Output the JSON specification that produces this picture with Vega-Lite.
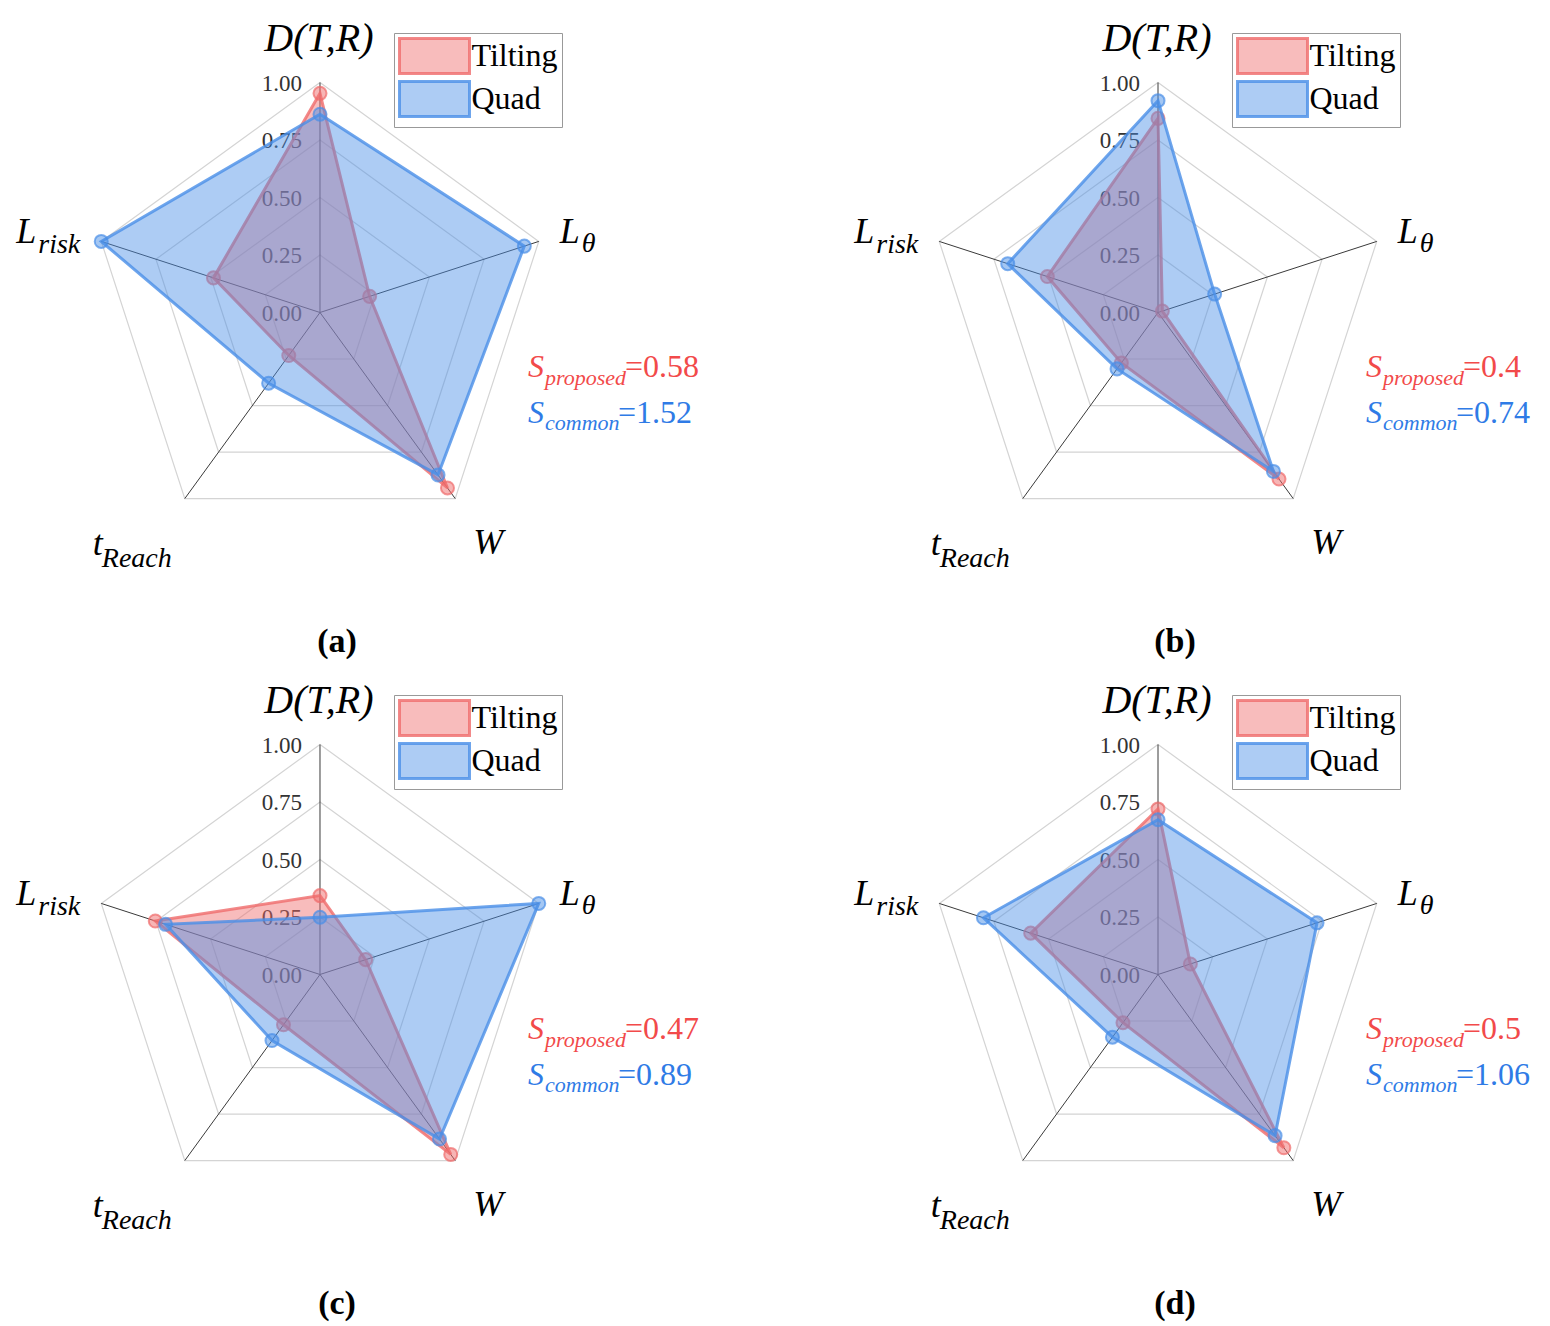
{
"$schema":"https://vega.github.io/schema/vega-lite/v6.json",
"background":"white",
"padding":0,
"columns":2,
"spacing":{"row":2,"column":138},
"datasets":{
"grid":[{"level":0.25,"k":0},{"level":0.25,"k":1},{"level":0.25,"k":2},{"level":0.25,"k":3},{"level":0.25,"k":4},
{"level":0.5,"k":0},{"level":0.5,"k":1},{"level":0.5,"k":2},{"level":0.5,"k":3},{"level":0.5,"k":4},
{"level":0.75,"k":0},{"level":0.75,"k":1},{"level":0.75,"k":2},{"level":0.75,"k":3},{"level":0.75,"k":4},
{"level":1,"k":0},{"level":1,"k":1},{"level":1,"k":2},{"level":1,"k":3},{"level":1,"k":4}],
"axes":[{"k":0,"axis":"D(T,R)","main":"D(T,R)","sub":""},{"k":1,"axis":"L_theta","main":"L","sub":"θ"},{"k":2,"axis":"W","main":"W","sub":""},{"k":3,"axis":"t_Reach","main":"t","sub":"Reach"},{"k":4,"axis":"L_risk","main":"L","sub":"risk"}],
"ticks":[{"v":0,"label":"0.00"},{"v":0.25,"label":"0.25"},{"v":0.5,"label":"0.50"},{"v":0.75,"label":"0.75"},{"v":1,"label":"1.00"}],
"vals":[
{"panel":"a","series":"Tilting","k":0,"axis":"D(T,R)","v":0.953},{"panel":"a","series":"Tilting","k":1,"axis":"L_theta","v":0.227},{"panel":"a","series":"Tilting","k":2,"axis":"W","v":0.943},{"panel":"a","series":"Tilting","k":3,"axis":"t_Reach","v":0.231},{"panel":"a","series":"Tilting","k":4,"axis":"L_risk","v":0.487},
{"panel":"a","series":"Quad","k":0,"axis":"D(T,R)","v":0.862},{"panel":"a","series":"Quad","k":1,"axis":"L_theta","v":0.934},{"panel":"a","series":"Quad","k":2,"axis":"W","v":0.873},{"panel":"a","series":"Quad","k":3,"axis":"t_Reach","v":0.38},{"panel":"a","series":"Quad","k":4,"axis":"L_risk","v":1.0},
{"panel":"b","series":"Tilting","k":0,"axis":"D(T,R)","v":0.844},{"panel":"b","series":"Tilting","k":1,"axis":"L_theta","v":0.02},{"panel":"b","series":"Tilting","k":2,"axis":"W","v":0.895},{"panel":"b","series":"Tilting","k":3,"axis":"t_Reach","v":0.271},{"panel":"b","series":"Tilting","k":4,"axis":"L_risk","v":0.506},
{"panel":"b","series":"Quad","k":0,"axis":"D(T,R)","v":0.921},{"panel":"b","series":"Quad","k":1,"axis":"L_theta","v":0.259},{"panel":"b","series":"Quad","k":2,"axis":"W","v":0.854},{"panel":"b","series":"Quad","k":3,"axis":"t_Reach","v":0.303},{"panel":"b","series":"Quad","k":4,"axis":"L_risk","v":0.687},
{"panel":"c","series":"Tilting","k":0,"axis":"D(T,R)","v":0.343},{"panel":"c","series":"Tilting","k":1,"axis":"L_theta","v":0.209},{"panel":"c","series":"Tilting","k":2,"axis":"W","v":0.967},{"panel":"c","series":"Tilting","k":3,"axis":"t_Reach","v":0.27},{"panel":"c","series":"Tilting","k":4,"axis":"L_risk","v":0.753},
{"panel":"c","series":"Quad","k":0,"axis":"D(T,R)","v":0.249},{"panel":"c","series":"Quad","k":1,"axis":"L_theta","v":1.0},{"panel":"c","series":"Quad","k":2,"axis":"W","v":0.884},{"panel":"c","series":"Quad","k":3,"axis":"t_Reach","v":0.355},{"panel":"c","series":"Quad","k":4,"axis":"L_risk","v":0.706},
{"panel":"d","series":"Tilting","k":0,"axis":"D(T,R)","v":0.72},{"panel":"d","series":"Tilting","k":1,"axis":"L_theta","v":0.148},{"panel":"d","series":"Tilting","k":2,"axis":"W","v":0.931},{"panel":"d","series":"Tilting","k":3,"axis":"t_Reach","v":0.259},{"panel":"d","series":"Tilting","k":4,"axis":"L_risk","v":0.582},
{"panel":"d","series":"Quad","k":0,"axis":"D(T,R)","v":0.673},{"panel":"d","series":"Quad","k":1,"axis":"L_theta","v":0.727},{"panel":"d","series":"Quad","k":2,"axis":"W","v":0.866},{"panel":"d","series":"Quad","k":3,"axis":"t_Reach","v":0.337},{"panel":"d","series":"Quad","k":4,"axis":"L_risk","v":0.798}],
"scores":[
{"panel":"a","series":"Tilting","sub":"proposed","val":"=0.58"},{"panel":"a","series":"Quad","sub":"common","val":"=1.52"},
{"panel":"b","series":"Tilting","sub":"proposed","val":"=0.4"},{"panel":"b","series":"Quad","sub":"common","val":"=0.74"},
{"panel":"c","series":"Tilting","sub":"proposed","val":"=0.47"},{"panel":"c","series":"Quad","sub":"common","val":"=0.89"},
{"panel":"d","series":"Tilting","sub":"proposed","val":"=0.5"},{"panel":"d","series":"Quad","sub":"common","val":"=1.06"}],
"panels":[{"panel":"a","label":"(a)"},{"panel":"b","label":"(b)"},{"panel":"c","label":"(c)"},{"panel":"d","label":"(d)"}]
},
"concat":[
{"width":700,"height":660,
"encoding":{"x":{"field":"x","type":"quantitative","scale":{"domain":[-1.391304,1.652174],"nice":false,"zero":false},"axis":null},"y":{"field":"y","type":"quantitative","scale":{"domain":[-1.51087,1.358696],"nice":false,"zero":false},"axis":null}},
"layer":[
{"data":{"name":"grid"},"transform":[{"calculate":"datum.level*sin(datum.k*2*PI/5)","as":"x"},{"calculate":"datum.level*cos(datum.k*2*PI/5)","as":"y"}],"mark":{"type":"line","interpolate":"linear-closed","color":"#d4d4d4","strokeWidth":1.2},"encoding":{"detail":{"field":"level","type":"nominal"},"order":{"field":"k","type":"quantitative"}}},
{"data":{"name":"axes"},"transform":[{"calculate":"sin(datum.k*2*PI/5)","as":"x"},{"calculate":"cos(datum.k*2*PI/5)","as":"y"}],"mark":{"type":"rule","color":"#3a3a3a","strokeWidth":1},"encoding":{"x2":{"datum":0},"y2":{"datum":0}}},
{"data":{"name":"ticks"},"transform":[{"calculate":"0","as":"x"},{"calculate":"datum.v","as":"y"}],"mark":{"type":"text","align":"right","baseline":"middle","dx":-18,"dy":1,"fontSize":23,"color":"#333333"},"encoding":{"text":{"field":"label","type":"nominal"}}},
{"data":{"name":"vals"},"transform":[{"filter":"datum.panel==='a' && datum.series==='Tilting'"},{"calculate":"datum.v*sin(datum.k*2*PI/5)","as":"x"},{"calculate":"datum.v*cos(datum.k*2*PI/5)","as":"y"}],"mark":{"type":"line","interpolate":"linear-closed","strokeWidth":3,"fillOpacity":0.45,"strokeOpacity":0.8},"encoding":{"order":{"field":"k","type":"quantitative"},"fill":{"field":"series","type":"nominal","scale":{"domain":["Tilting","Quad"],"range":["#ef6b6b","#4a8fe7"]},"legend":{"title":null,"orient":"none","legendX":394,"legendY":33,"labelExpr":"datum.label + '\u00a0'","encode":{"symbols":{"update":{"fillOpacity":{"value":0.45},"strokeOpacity":{"value":0.8}}}}}},"stroke":{"field":"series","type":"nominal","scale":{"domain":["Tilting","Quad"],"range":["#ef6b6b","#4a8fe7"]},"legend":{"title":null,"orient":"none","legendX":394,"legendY":33,"labelExpr":"datum.label + '\u00a0'","encode":{"symbols":{"update":{"fillOpacity":{"value":0.45},"strokeOpacity":{"value":0.8}}}}}}}},
{"data":{"name":"vals"},"transform":[{"filter":"datum.panel==='a' && datum.series==='Tilting'"},{"calculate":"datum.v*sin(datum.k*2*PI/5)","as":"x"},{"calculate":"datum.v*cos(datum.k*2*PI/5)","as":"y"}],"mark":{"type":"point","shape":"circle","filled":true,"size":170,"fillOpacity":0.5,"strokeWidth":2,"strokeOpacity":0.7},"encoding":{"fill":{"field":"series","type":"nominal","scale":{"domain":["Tilting","Quad"],"range":["#ef6b6b","#4a8fe7"]}},"stroke":{"field":"series","type":"nominal","scale":{"domain":["Tilting","Quad"],"range":["#ef6b6b","#4a8fe7"]}}}},
{"data":{"name":"vals"},"transform":[{"filter":"datum.panel==='a' && datum.series==='Quad'"},{"calculate":"datum.v*sin(datum.k*2*PI/5)","as":"x"},{"calculate":"datum.v*cos(datum.k*2*PI/5)","as":"y"}],"mark":{"type":"line","interpolate":"linear-closed","strokeWidth":3,"fillOpacity":0.45,"strokeOpacity":0.8},"encoding":{"order":{"field":"k","type":"quantitative"},"fill":{"field":"series","type":"nominal","scale":{"domain":["Tilting","Quad"],"range":["#ef6b6b","#4a8fe7"]}},"stroke":{"field":"series","type":"nominal","scale":{"domain":["Tilting","Quad"],"range":["#ef6b6b","#4a8fe7"]}}}},
{"data":{"name":"vals"},"transform":[{"filter":"datum.panel==='a' && datum.series==='Quad'"},{"calculate":"datum.v*sin(datum.k*2*PI/5)","as":"x"},{"calculate":"datum.v*cos(datum.k*2*PI/5)","as":"y"}],"mark":{"type":"point","shape":"circle","filled":true,"size":170,"fillOpacity":0.5,"strokeWidth":2,"strokeOpacity":0.7},"encoding":{"fill":{"field":"series","type":"nominal","scale":{"domain":["Tilting","Quad"],"range":["#ef6b6b","#4a8fe7"]}},"stroke":{"field":"series","type":"nominal","scale":{"domain":["Tilting","Quad"],"range":["#ef6b6b","#4a8fe7"]}}}},
{"data":{"name":"axes"},"transform":[{"filter":"datum.k===0"},{"calculate":"sin(datum.k*2*PI/5)","as":"x"},{"calculate":"cos(datum.k*2*PI/5)","as":"y"}],"mark":{"type":"text","align":"center","baseline":"alphabetic","dx":-1,"dy":-32,"fontSize":40,"fontStyle":"italic","color":"#000000"},"encoding":{"text":{"field":"main","type":"nominal"}}},
{"data":{"name":"axes"},"transform":[{"filter":"datum.k===1"},{"calculate":"sin(datum.k*2*PI/5)","as":"x"},{"calculate":"cos(datum.k*2*PI/5)","as":"y"}],"mark":{"type":"text","align":"left","baseline":"alphabetic","dx":21,"dy":2,"fontSize":36,"fontStyle":"italic","color":"#000000"},"encoding":{"text":{"field":"main","type":"nominal"}}},
{"data":{"name":"axes"},"transform":[{"filter":"datum.k===1"},{"calculate":"sin(datum.k*2*PI/5)","as":"x"},{"calculate":"cos(datum.k*2*PI/5)","as":"y"}],"mark":{"type":"text","align":"left","baseline":"alphabetic","dx":43,"dy":11,"fontSize":28,"fontStyle":"italic","color":"#000000"},"encoding":{"text":{"field":"sub","type":"nominal"}}},
{"data":{"name":"axes"},"transform":[{"filter":"datum.k===2"},{"calculate":"sin(datum.k*2*PI/5)","as":"x"},{"calculate":"cos(datum.k*2*PI/5)","as":"y"}],"mark":{"type":"text","align":"left","baseline":"alphabetic","dx":18,"dy":55,"fontSize":36,"fontStyle":"italic","color":"#000000"},"encoding":{"text":{"field":"main","type":"nominal"}}},
{"data":{"name":"axes"},"transform":[{"filter":"datum.k===3"},{"calculate":"sin(datum.k*2*PI/5)","as":"x"},{"calculate":"cos(datum.k*2*PI/5)","as":"y"}],"mark":{"type":"text","align":"left","baseline":"alphabetic","dx":-92,"dy":56,"fontSize":36,"fontStyle":"italic","color":"#000000"},"encoding":{"text":{"field":"main","type":"nominal"}}},
{"data":{"name":"axes"},"transform":[{"filter":"datum.k===3"},{"calculate":"sin(datum.k*2*PI/5)","as":"x"},{"calculate":"cos(datum.k*2*PI/5)","as":"y"}],"mark":{"type":"text","align":"left","baseline":"alphabetic","dx":-83,"dy":68,"fontSize":28,"fontStyle":"italic","color":"#000000"},"encoding":{"text":{"field":"sub","type":"nominal"}}},
{"data":{"name":"axes"},"transform":[{"filter":"datum.k===4"},{"calculate":"sin(datum.k*2*PI/5)","as":"x"},{"calculate":"cos(datum.k*2*PI/5)","as":"y"}],"mark":{"type":"text","align":"left","baseline":"alphabetic","dx":-85,"dy":2,"fontSize":36,"fontStyle":"italic","color":"#000000"},"encoding":{"text":{"field":"main","type":"nominal"}}},
{"data":{"name":"axes"},"transform":[{"filter":"datum.k===4"},{"calculate":"sin(datum.k*2*PI/5)","as":"x"},{"calculate":"cos(datum.k*2*PI/5)","as":"y"}],"mark":{"type":"text","align":"left","baseline":"alphabetic","dx":-63,"dy":12,"fontSize":28,"fontStyle":"italic","color":"#000000"},"encoding":{"text":{"field":"sub","type":"nominal"}}},
{"data":{"name":"scores"},"transform":[{"filter":"datum.panel==='a' && datum.series==='Tilting'"},{"calculate":"0.9","as":"x"},{"calculate":"-0.28","as":"y"}],"mark":{"type":"text","text":"S","align":"left","baseline":"alphabetic","dx":1,"fontSize":32,"fontStyle":"italic","color":"#f24a4a"}},
{"data":{"name":"scores"},"transform":[{"filter":"datum.panel==='a' && datum.series==='Tilting'"},{"calculate":"0.9","as":"x"},{"calculate":"-0.28","as":"y"}],"mark":{"type":"text","align":"left","baseline":"alphabetic","dx":18,"dy":8,"fontSize":22,"fontStyle":"italic","color":"#f24a4a"},"encoding":{"text":{"field":"sub","type":"nominal"}}},
{"data":{"name":"scores"},"transform":[{"filter":"datum.panel==='a' && datum.series==='Tilting'"},{"calculate":"0.9","as":"x"},{"calculate":"-0.28","as":"y"}],"mark":{"type":"text","align":"left","baseline":"alphabetic","dx":98,"fontSize":32,"color":"#f24a4a"},"encoding":{"text":{"field":"val","type":"nominal"}}},
{"data":{"name":"scores"},"transform":[{"filter":"datum.panel==='a' && datum.series==='Quad'"},{"calculate":"0.9","as":"x"},{"calculate":"-0.48","as":"y"}],"mark":{"type":"text","text":"S","align":"left","baseline":"alphabetic","dx":1,"fontSize":32,"fontStyle":"italic","color":"#2f7be6"}},
{"data":{"name":"scores"},"transform":[{"filter":"datum.panel==='a' && datum.series==='Quad'"},{"calculate":"0.9","as":"x"},{"calculate":"-0.48","as":"y"}],"mark":{"type":"text","align":"left","baseline":"alphabetic","dx":18,"dy":7,"fontSize":22,"fontStyle":"italic","color":"#2f7be6"},"encoding":{"text":{"field":"sub","type":"nominal"}}},
{"data":{"name":"scores"},"transform":[{"filter":"datum.panel==='a' && datum.series==='Quad'"},{"calculate":"0.9","as":"x"},{"calculate":"-0.48","as":"y"}],"mark":{"type":"text","align":"left","baseline":"alphabetic","dx":91,"fontSize":32,"color":"#2f7be6"},"encoding":{"text":{"field":"val","type":"nominal"}}},
{"data":{"name":"panels"},"transform":[{"filter":"datum.panel==='a'"},{"calculate":"0.074","as":"x"},{"calculate":"-1.475","as":"y"}],"mark":{"type":"text","align":"center","baseline":"alphabetic","fontSize":34,"fontWeight":"bold","color":"#000000"},"encoding":{"text":{"field":"label","type":"nominal"}}}
]},
{"width":700,"height":660,
"encoding":{"x":{"field":"x","type":"quantitative","scale":{"domain":[-1.391304,1.652174],"nice":false,"zero":false},"axis":null},"y":{"field":"y","type":"quantitative","scale":{"domain":[-1.51087,1.358696],"nice":false,"zero":false},"axis":null}},
"layer":[
{"data":{"name":"grid"},"transform":[{"calculate":"datum.level*sin(datum.k*2*PI/5)","as":"x"},{"calculate":"datum.level*cos(datum.k*2*PI/5)","as":"y"}],"mark":{"type":"line","interpolate":"linear-closed","color":"#d4d4d4","strokeWidth":1.2},"encoding":{"detail":{"field":"level","type":"nominal"},"order":{"field":"k","type":"quantitative"}}},
{"data":{"name":"axes"},"transform":[{"calculate":"sin(datum.k*2*PI/5)","as":"x"},{"calculate":"cos(datum.k*2*PI/5)","as":"y"}],"mark":{"type":"rule","color":"#3a3a3a","strokeWidth":1},"encoding":{"x2":{"datum":0},"y2":{"datum":0}}},
{"data":{"name":"ticks"},"transform":[{"calculate":"0","as":"x"},{"calculate":"datum.v","as":"y"}],"mark":{"type":"text","align":"right","baseline":"middle","dx":-18,"dy":1,"fontSize":23,"color":"#333333"},"encoding":{"text":{"field":"label","type":"nominal"}}},
{"data":{"name":"vals"},"transform":[{"filter":"datum.panel==='b' && datum.series==='Tilting'"},{"calculate":"datum.v*sin(datum.k*2*PI/5)","as":"x"},{"calculate":"datum.v*cos(datum.k*2*PI/5)","as":"y"}],"mark":{"type":"line","interpolate":"linear-closed","strokeWidth":3,"fillOpacity":0.45,"strokeOpacity":0.8},"encoding":{"order":{"field":"k","type":"quantitative"},"fill":{"field":"series","type":"nominal","scale":{"domain":["Tilting","Quad"],"range":["#ef6b6b","#4a8fe7"]},"legend":{"title":null,"orient":"none","legendX":394,"legendY":33,"labelExpr":"datum.label + '\u00a0'","encode":{"symbols":{"update":{"fillOpacity":{"value":0.45},"strokeOpacity":{"value":0.8}}}}}},"stroke":{"field":"series","type":"nominal","scale":{"domain":["Tilting","Quad"],"range":["#ef6b6b","#4a8fe7"]},"legend":{"title":null,"orient":"none","legendX":394,"legendY":33,"labelExpr":"datum.label + '\u00a0'","encode":{"symbols":{"update":{"fillOpacity":{"value":0.45},"strokeOpacity":{"value":0.8}}}}}}}},
{"data":{"name":"vals"},"transform":[{"filter":"datum.panel==='b' && datum.series==='Tilting'"},{"calculate":"datum.v*sin(datum.k*2*PI/5)","as":"x"},{"calculate":"datum.v*cos(datum.k*2*PI/5)","as":"y"}],"mark":{"type":"point","shape":"circle","filled":true,"size":170,"fillOpacity":0.5,"strokeWidth":2,"strokeOpacity":0.7},"encoding":{"fill":{"field":"series","type":"nominal","scale":{"domain":["Tilting","Quad"],"range":["#ef6b6b","#4a8fe7"]}},"stroke":{"field":"series","type":"nominal","scale":{"domain":["Tilting","Quad"],"range":["#ef6b6b","#4a8fe7"]}}}},
{"data":{"name":"vals"},"transform":[{"filter":"datum.panel==='b' && datum.series==='Quad'"},{"calculate":"datum.v*sin(datum.k*2*PI/5)","as":"x"},{"calculate":"datum.v*cos(datum.k*2*PI/5)","as":"y"}],"mark":{"type":"line","interpolate":"linear-closed","strokeWidth":3,"fillOpacity":0.45,"strokeOpacity":0.8},"encoding":{"order":{"field":"k","type":"quantitative"},"fill":{"field":"series","type":"nominal","scale":{"domain":["Tilting","Quad"],"range":["#ef6b6b","#4a8fe7"]}},"stroke":{"field":"series","type":"nominal","scale":{"domain":["Tilting","Quad"],"range":["#ef6b6b","#4a8fe7"]}}}},
{"data":{"name":"vals"},"transform":[{"filter":"datum.panel==='b' && datum.series==='Quad'"},{"calculate":"datum.v*sin(datum.k*2*PI/5)","as":"x"},{"calculate":"datum.v*cos(datum.k*2*PI/5)","as":"y"}],"mark":{"type":"point","shape":"circle","filled":true,"size":170,"fillOpacity":0.5,"strokeWidth":2,"strokeOpacity":0.7},"encoding":{"fill":{"field":"series","type":"nominal","scale":{"domain":["Tilting","Quad"],"range":["#ef6b6b","#4a8fe7"]}},"stroke":{"field":"series","type":"nominal","scale":{"domain":["Tilting","Quad"],"range":["#ef6b6b","#4a8fe7"]}}}},
{"data":{"name":"axes"},"transform":[{"filter":"datum.k===0"},{"calculate":"sin(datum.k*2*PI/5)","as":"x"},{"calculate":"cos(datum.k*2*PI/5)","as":"y"}],"mark":{"type":"text","align":"center","baseline":"alphabetic","dx":-1,"dy":-32,"fontSize":40,"fontStyle":"italic","color":"#000000"},"encoding":{"text":{"field":"main","type":"nominal"}}},
{"data":{"name":"axes"},"transform":[{"filter":"datum.k===1"},{"calculate":"sin(datum.k*2*PI/5)","as":"x"},{"calculate":"cos(datum.k*2*PI/5)","as":"y"}],"mark":{"type":"text","align":"left","baseline":"alphabetic","dx":21,"dy":2,"fontSize":36,"fontStyle":"italic","color":"#000000"},"encoding":{"text":{"field":"main","type":"nominal"}}},
{"data":{"name":"axes"},"transform":[{"filter":"datum.k===1"},{"calculate":"sin(datum.k*2*PI/5)","as":"x"},{"calculate":"cos(datum.k*2*PI/5)","as":"y"}],"mark":{"type":"text","align":"left","baseline":"alphabetic","dx":43,"dy":11,"fontSize":28,"fontStyle":"italic","color":"#000000"},"encoding":{"text":{"field":"sub","type":"nominal"}}},
{"data":{"name":"axes"},"transform":[{"filter":"datum.k===2"},{"calculate":"sin(datum.k*2*PI/5)","as":"x"},{"calculate":"cos(datum.k*2*PI/5)","as":"y"}],"mark":{"type":"text","align":"left","baseline":"alphabetic","dx":18,"dy":55,"fontSize":36,"fontStyle":"italic","color":"#000000"},"encoding":{"text":{"field":"main","type":"nominal"}}},
{"data":{"name":"axes"},"transform":[{"filter":"datum.k===3"},{"calculate":"sin(datum.k*2*PI/5)","as":"x"},{"calculate":"cos(datum.k*2*PI/5)","as":"y"}],"mark":{"type":"text","align":"left","baseline":"alphabetic","dx":-92,"dy":56,"fontSize":36,"fontStyle":"italic","color":"#000000"},"encoding":{"text":{"field":"main","type":"nominal"}}},
{"data":{"name":"axes"},"transform":[{"filter":"datum.k===3"},{"calculate":"sin(datum.k*2*PI/5)","as":"x"},{"calculate":"cos(datum.k*2*PI/5)","as":"y"}],"mark":{"type":"text","align":"left","baseline":"alphabetic","dx":-83,"dy":68,"fontSize":28,"fontStyle":"italic","color":"#000000"},"encoding":{"text":{"field":"sub","type":"nominal"}}},
{"data":{"name":"axes"},"transform":[{"filter":"datum.k===4"},{"calculate":"sin(datum.k*2*PI/5)","as":"x"},{"calculate":"cos(datum.k*2*PI/5)","as":"y"}],"mark":{"type":"text","align":"left","baseline":"alphabetic","dx":-85,"dy":2,"fontSize":36,"fontStyle":"italic","color":"#000000"},"encoding":{"text":{"field":"main","type":"nominal"}}},
{"data":{"name":"axes"},"transform":[{"filter":"datum.k===4"},{"calculate":"sin(datum.k*2*PI/5)","as":"x"},{"calculate":"cos(datum.k*2*PI/5)","as":"y"}],"mark":{"type":"text","align":"left","baseline":"alphabetic","dx":-63,"dy":12,"fontSize":28,"fontStyle":"italic","color":"#000000"},"encoding":{"text":{"field":"sub","type":"nominal"}}},
{"data":{"name":"scores"},"transform":[{"filter":"datum.panel==='b' && datum.series==='Tilting'"},{"calculate":"0.9","as":"x"},{"calculate":"-0.28","as":"y"}],"mark":{"type":"text","text":"S","align":"left","baseline":"alphabetic","dx":1,"fontSize":32,"fontStyle":"italic","color":"#f24a4a"}},
{"data":{"name":"scores"},"transform":[{"filter":"datum.panel==='b' && datum.series==='Tilting'"},{"calculate":"0.9","as":"x"},{"calculate":"-0.28","as":"y"}],"mark":{"type":"text","align":"left","baseline":"alphabetic","dx":18,"dy":8,"fontSize":22,"fontStyle":"italic","color":"#f24a4a"},"encoding":{"text":{"field":"sub","type":"nominal"}}},
{"data":{"name":"scores"},"transform":[{"filter":"datum.panel==='b' && datum.series==='Tilting'"},{"calculate":"0.9","as":"x"},{"calculate":"-0.28","as":"y"}],"mark":{"type":"text","align":"left","baseline":"alphabetic","dx":98,"fontSize":32,"color":"#f24a4a"},"encoding":{"text":{"field":"val","type":"nominal"}}},
{"data":{"name":"scores"},"transform":[{"filter":"datum.panel==='b' && datum.series==='Quad'"},{"calculate":"0.9","as":"x"},{"calculate":"-0.48","as":"y"}],"mark":{"type":"text","text":"S","align":"left","baseline":"alphabetic","dx":1,"fontSize":32,"fontStyle":"italic","color":"#2f7be6"}},
{"data":{"name":"scores"},"transform":[{"filter":"datum.panel==='b' && datum.series==='Quad'"},{"calculate":"0.9","as":"x"},{"calculate":"-0.48","as":"y"}],"mark":{"type":"text","align":"left","baseline":"alphabetic","dx":18,"dy":7,"fontSize":22,"fontStyle":"italic","color":"#2f7be6"},"encoding":{"text":{"field":"sub","type":"nominal"}}},
{"data":{"name":"scores"},"transform":[{"filter":"datum.panel==='b' && datum.series==='Quad'"},{"calculate":"0.9","as":"x"},{"calculate":"-0.48","as":"y"}],"mark":{"type":"text","align":"left","baseline":"alphabetic","dx":91,"fontSize":32,"color":"#2f7be6"},"encoding":{"text":{"field":"val","type":"nominal"}}},
{"data":{"name":"panels"},"transform":[{"filter":"datum.panel==='b'"},{"calculate":"0.074","as":"x"},{"calculate":"-1.475","as":"y"}],"mark":{"type":"text","align":"center","baseline":"alphabetic","fontSize":34,"fontWeight":"bold","color":"#000000"},"encoding":{"text":{"field":"label","type":"nominal"}}}
]},
{"width":700,"height":660,
"encoding":{"x":{"field":"x","type":"quantitative","scale":{"domain":[-1.391304,1.652174],"nice":false,"zero":false},"axis":null},"y":{"field":"y","type":"quantitative","scale":{"domain":[-1.51087,1.358696],"nice":false,"zero":false},"axis":null}},
"layer":[
{"data":{"name":"grid"},"transform":[{"calculate":"datum.level*sin(datum.k*2*PI/5)","as":"x"},{"calculate":"datum.level*cos(datum.k*2*PI/5)","as":"y"}],"mark":{"type":"line","interpolate":"linear-closed","color":"#d4d4d4","strokeWidth":1.2},"encoding":{"detail":{"field":"level","type":"nominal"},"order":{"field":"k","type":"quantitative"}}},
{"data":{"name":"axes"},"transform":[{"calculate":"sin(datum.k*2*PI/5)","as":"x"},{"calculate":"cos(datum.k*2*PI/5)","as":"y"}],"mark":{"type":"rule","color":"#3a3a3a","strokeWidth":1},"encoding":{"x2":{"datum":0},"y2":{"datum":0}}},
{"data":{"name":"ticks"},"transform":[{"calculate":"0","as":"x"},{"calculate":"datum.v","as":"y"}],"mark":{"type":"text","align":"right","baseline":"middle","dx":-18,"dy":1,"fontSize":23,"color":"#333333"},"encoding":{"text":{"field":"label","type":"nominal"}}},
{"data":{"name":"vals"},"transform":[{"filter":"datum.panel==='c' && datum.series==='Tilting'"},{"calculate":"datum.v*sin(datum.k*2*PI/5)","as":"x"},{"calculate":"datum.v*cos(datum.k*2*PI/5)","as":"y"}],"mark":{"type":"line","interpolate":"linear-closed","strokeWidth":3,"fillOpacity":0.45,"strokeOpacity":0.8},"encoding":{"order":{"field":"k","type":"quantitative"},"fill":{"field":"series","type":"nominal","scale":{"domain":["Tilting","Quad"],"range":["#ef6b6b","#4a8fe7"]},"legend":{"title":null,"orient":"none","legendX":394,"legendY":33,"labelExpr":"datum.label + '\u00a0'","encode":{"symbols":{"update":{"fillOpacity":{"value":0.45},"strokeOpacity":{"value":0.8}}}}}},"stroke":{"field":"series","type":"nominal","scale":{"domain":["Tilting","Quad"],"range":["#ef6b6b","#4a8fe7"]},"legend":{"title":null,"orient":"none","legendX":394,"legendY":33,"labelExpr":"datum.label + '\u00a0'","encode":{"symbols":{"update":{"fillOpacity":{"value":0.45},"strokeOpacity":{"value":0.8}}}}}}}},
{"data":{"name":"vals"},"transform":[{"filter":"datum.panel==='c' && datum.series==='Tilting'"},{"calculate":"datum.v*sin(datum.k*2*PI/5)","as":"x"},{"calculate":"datum.v*cos(datum.k*2*PI/5)","as":"y"}],"mark":{"type":"point","shape":"circle","filled":true,"size":170,"fillOpacity":0.5,"strokeWidth":2,"strokeOpacity":0.7},"encoding":{"fill":{"field":"series","type":"nominal","scale":{"domain":["Tilting","Quad"],"range":["#ef6b6b","#4a8fe7"]}},"stroke":{"field":"series","type":"nominal","scale":{"domain":["Tilting","Quad"],"range":["#ef6b6b","#4a8fe7"]}}}},
{"data":{"name":"vals"},"transform":[{"filter":"datum.panel==='c' && datum.series==='Quad'"},{"calculate":"datum.v*sin(datum.k*2*PI/5)","as":"x"},{"calculate":"datum.v*cos(datum.k*2*PI/5)","as":"y"}],"mark":{"type":"line","interpolate":"linear-closed","strokeWidth":3,"fillOpacity":0.45,"strokeOpacity":0.8},"encoding":{"order":{"field":"k","type":"quantitative"},"fill":{"field":"series","type":"nominal","scale":{"domain":["Tilting","Quad"],"range":["#ef6b6b","#4a8fe7"]}},"stroke":{"field":"series","type":"nominal","scale":{"domain":["Tilting","Quad"],"range":["#ef6b6b","#4a8fe7"]}}}},
{"data":{"name":"vals"},"transform":[{"filter":"datum.panel==='c' && datum.series==='Quad'"},{"calculate":"datum.v*sin(datum.k*2*PI/5)","as":"x"},{"calculate":"datum.v*cos(datum.k*2*PI/5)","as":"y"}],"mark":{"type":"point","shape":"circle","filled":true,"size":170,"fillOpacity":0.5,"strokeWidth":2,"strokeOpacity":0.7},"encoding":{"fill":{"field":"series","type":"nominal","scale":{"domain":["Tilting","Quad"],"range":["#ef6b6b","#4a8fe7"]}},"stroke":{"field":"series","type":"nominal","scale":{"domain":["Tilting","Quad"],"range":["#ef6b6b","#4a8fe7"]}}}},
{"data":{"name":"axes"},"transform":[{"filter":"datum.k===0"},{"calculate":"sin(datum.k*2*PI/5)","as":"x"},{"calculate":"cos(datum.k*2*PI/5)","as":"y"}],"mark":{"type":"text","align":"center","baseline":"alphabetic","dx":-1,"dy":-32,"fontSize":40,"fontStyle":"italic","color":"#000000"},"encoding":{"text":{"field":"main","type":"nominal"}}},
{"data":{"name":"axes"},"transform":[{"filter":"datum.k===1"},{"calculate":"sin(datum.k*2*PI/5)","as":"x"},{"calculate":"cos(datum.k*2*PI/5)","as":"y"}],"mark":{"type":"text","align":"left","baseline":"alphabetic","dx":21,"dy":2,"fontSize":36,"fontStyle":"italic","color":"#000000"},"encoding":{"text":{"field":"main","type":"nominal"}}},
{"data":{"name":"axes"},"transform":[{"filter":"datum.k===1"},{"calculate":"sin(datum.k*2*PI/5)","as":"x"},{"calculate":"cos(datum.k*2*PI/5)","as":"y"}],"mark":{"type":"text","align":"left","baseline":"alphabetic","dx":43,"dy":11,"fontSize":28,"fontStyle":"italic","color":"#000000"},"encoding":{"text":{"field":"sub","type":"nominal"}}},
{"data":{"name":"axes"},"transform":[{"filter":"datum.k===2"},{"calculate":"sin(datum.k*2*PI/5)","as":"x"},{"calculate":"cos(datum.k*2*PI/5)","as":"y"}],"mark":{"type":"text","align":"left","baseline":"alphabetic","dx":18,"dy":55,"fontSize":36,"fontStyle":"italic","color":"#000000"},"encoding":{"text":{"field":"main","type":"nominal"}}},
{"data":{"name":"axes"},"transform":[{"filter":"datum.k===3"},{"calculate":"sin(datum.k*2*PI/5)","as":"x"},{"calculate":"cos(datum.k*2*PI/5)","as":"y"}],"mark":{"type":"text","align":"left","baseline":"alphabetic","dx":-92,"dy":56,"fontSize":36,"fontStyle":"italic","color":"#000000"},"encoding":{"text":{"field":"main","type":"nominal"}}},
{"data":{"name":"axes"},"transform":[{"filter":"datum.k===3"},{"calculate":"sin(datum.k*2*PI/5)","as":"x"},{"calculate":"cos(datum.k*2*PI/5)","as":"y"}],"mark":{"type":"text","align":"left","baseline":"alphabetic","dx":-83,"dy":68,"fontSize":28,"fontStyle":"italic","color":"#000000"},"encoding":{"text":{"field":"sub","type":"nominal"}}},
{"data":{"name":"axes"},"transform":[{"filter":"datum.k===4"},{"calculate":"sin(datum.k*2*PI/5)","as":"x"},{"calculate":"cos(datum.k*2*PI/5)","as":"y"}],"mark":{"type":"text","align":"left","baseline":"alphabetic","dx":-85,"dy":2,"fontSize":36,"fontStyle":"italic","color":"#000000"},"encoding":{"text":{"field":"main","type":"nominal"}}},
{"data":{"name":"axes"},"transform":[{"filter":"datum.k===4"},{"calculate":"sin(datum.k*2*PI/5)","as":"x"},{"calculate":"cos(datum.k*2*PI/5)","as":"y"}],"mark":{"type":"text","align":"left","baseline":"alphabetic","dx":-63,"dy":12,"fontSize":28,"fontStyle":"italic","color":"#000000"},"encoding":{"text":{"field":"sub","type":"nominal"}}},
{"data":{"name":"scores"},"transform":[{"filter":"datum.panel==='c' && datum.series==='Tilting'"},{"calculate":"0.9","as":"x"},{"calculate":"-0.28","as":"y"}],"mark":{"type":"text","text":"S","align":"left","baseline":"alphabetic","dx":1,"fontSize":32,"fontStyle":"italic","color":"#f24a4a"}},
{"data":{"name":"scores"},"transform":[{"filter":"datum.panel==='c' && datum.series==='Tilting'"},{"calculate":"0.9","as":"x"},{"calculate":"-0.28","as":"y"}],"mark":{"type":"text","align":"left","baseline":"alphabetic","dx":18,"dy":8,"fontSize":22,"fontStyle":"italic","color":"#f24a4a"},"encoding":{"text":{"field":"sub","type":"nominal"}}},
{"data":{"name":"scores"},"transform":[{"filter":"datum.panel==='c' && datum.series==='Tilting'"},{"calculate":"0.9","as":"x"},{"calculate":"-0.28","as":"y"}],"mark":{"type":"text","align":"left","baseline":"alphabetic","dx":98,"fontSize":32,"color":"#f24a4a"},"encoding":{"text":{"field":"val","type":"nominal"}}},
{"data":{"name":"scores"},"transform":[{"filter":"datum.panel==='c' && datum.series==='Quad'"},{"calculate":"0.9","as":"x"},{"calculate":"-0.48","as":"y"}],"mark":{"type":"text","text":"S","align":"left","baseline":"alphabetic","dx":1,"fontSize":32,"fontStyle":"italic","color":"#2f7be6"}},
{"data":{"name":"scores"},"transform":[{"filter":"datum.panel==='c' && datum.series==='Quad'"},{"calculate":"0.9","as":"x"},{"calculate":"-0.48","as":"y"}],"mark":{"type":"text","align":"left","baseline":"alphabetic","dx":18,"dy":7,"fontSize":22,"fontStyle":"italic","color":"#2f7be6"},"encoding":{"text":{"field":"sub","type":"nominal"}}},
{"data":{"name":"scores"},"transform":[{"filter":"datum.panel==='c' && datum.series==='Quad'"},{"calculate":"0.9","as":"x"},{"calculate":"-0.48","as":"y"}],"mark":{"type":"text","align":"left","baseline":"alphabetic","dx":91,"fontSize":32,"color":"#2f7be6"},"encoding":{"text":{"field":"val","type":"nominal"}}},
{"data":{"name":"panels"},"transform":[{"filter":"datum.panel==='c'"},{"calculate":"0.074","as":"x"},{"calculate":"-1.475","as":"y"}],"mark":{"type":"text","align":"center","baseline":"alphabetic","fontSize":34,"fontWeight":"bold","color":"#000000"},"encoding":{"text":{"field":"label","type":"nominal"}}}
]},
{"width":700,"height":660,
"encoding":{"x":{"field":"x","type":"quantitative","scale":{"domain":[-1.391304,1.652174],"nice":false,"zero":false},"axis":null},"y":{"field":"y","type":"quantitative","scale":{"domain":[-1.51087,1.358696],"nice":false,"zero":false},"axis":null}},
"layer":[
{"data":{"name":"grid"},"transform":[{"calculate":"datum.level*sin(datum.k*2*PI/5)","as":"x"},{"calculate":"datum.level*cos(datum.k*2*PI/5)","as":"y"}],"mark":{"type":"line","interpolate":"linear-closed","color":"#d4d4d4","strokeWidth":1.2},"encoding":{"detail":{"field":"level","type":"nominal"},"order":{"field":"k","type":"quantitative"}}},
{"data":{"name":"axes"},"transform":[{"calculate":"sin(datum.k*2*PI/5)","as":"x"},{"calculate":"cos(datum.k*2*PI/5)","as":"y"}],"mark":{"type":"rule","color":"#3a3a3a","strokeWidth":1},"encoding":{"x2":{"datum":0},"y2":{"datum":0}}},
{"data":{"name":"ticks"},"transform":[{"calculate":"0","as":"x"},{"calculate":"datum.v","as":"y"}],"mark":{"type":"text","align":"right","baseline":"middle","dx":-18,"dy":1,"fontSize":23,"color":"#333333"},"encoding":{"text":{"field":"label","type":"nominal"}}},
{"data":{"name":"vals"},"transform":[{"filter":"datum.panel==='d' && datum.series==='Tilting'"},{"calculate":"datum.v*sin(datum.k*2*PI/5)","as":"x"},{"calculate":"datum.v*cos(datum.k*2*PI/5)","as":"y"}],"mark":{"type":"line","interpolate":"linear-closed","strokeWidth":3,"fillOpacity":0.45,"strokeOpacity":0.8},"encoding":{"order":{"field":"k","type":"quantitative"},"fill":{"field":"series","type":"nominal","scale":{"domain":["Tilting","Quad"],"range":["#ef6b6b","#4a8fe7"]},"legend":{"title":null,"orient":"none","legendX":394,"legendY":33,"labelExpr":"datum.label + '\u00a0'","encode":{"symbols":{"update":{"fillOpacity":{"value":0.45},"strokeOpacity":{"value":0.8}}}}}},"stroke":{"field":"series","type":"nominal","scale":{"domain":["Tilting","Quad"],"range":["#ef6b6b","#4a8fe7"]},"legend":{"title":null,"orient":"none","legendX":394,"legendY":33,"labelExpr":"datum.label + '\u00a0'","encode":{"symbols":{"update":{"fillOpacity":{"value":0.45},"strokeOpacity":{"value":0.8}}}}}}}},
{"data":{"name":"vals"},"transform":[{"filter":"datum.panel==='d' && datum.series==='Tilting'"},{"calculate":"datum.v*sin(datum.k*2*PI/5)","as":"x"},{"calculate":"datum.v*cos(datum.k*2*PI/5)","as":"y"}],"mark":{"type":"point","shape":"circle","filled":true,"size":170,"fillOpacity":0.5,"strokeWidth":2,"strokeOpacity":0.7},"encoding":{"fill":{"field":"series","type":"nominal","scale":{"domain":["Tilting","Quad"],"range":["#ef6b6b","#4a8fe7"]}},"stroke":{"field":"series","type":"nominal","scale":{"domain":["Tilting","Quad"],"range":["#ef6b6b","#4a8fe7"]}}}},
{"data":{"name":"vals"},"transform":[{"filter":"datum.panel==='d' && datum.series==='Quad'"},{"calculate":"datum.v*sin(datum.k*2*PI/5)","as":"x"},{"calculate":"datum.v*cos(datum.k*2*PI/5)","as":"y"}],"mark":{"type":"line","interpolate":"linear-closed","strokeWidth":3,"fillOpacity":0.45,"strokeOpacity":0.8},"encoding":{"order":{"field":"k","type":"quantitative"},"fill":{"field":"series","type":"nominal","scale":{"domain":["Tilting","Quad"],"range":["#ef6b6b","#4a8fe7"]}},"stroke":{"field":"series","type":"nominal","scale":{"domain":["Tilting","Quad"],"range":["#ef6b6b","#4a8fe7"]}}}},
{"data":{"name":"vals"},"transform":[{"filter":"datum.panel==='d' && datum.series==='Quad'"},{"calculate":"datum.v*sin(datum.k*2*PI/5)","as":"x"},{"calculate":"datum.v*cos(datum.k*2*PI/5)","as":"y"}],"mark":{"type":"point","shape":"circle","filled":true,"size":170,"fillOpacity":0.5,"strokeWidth":2,"strokeOpacity":0.7},"encoding":{"fill":{"field":"series","type":"nominal","scale":{"domain":["Tilting","Quad"],"range":["#ef6b6b","#4a8fe7"]}},"stroke":{"field":"series","type":"nominal","scale":{"domain":["Tilting","Quad"],"range":["#ef6b6b","#4a8fe7"]}}}},
{"data":{"name":"axes"},"transform":[{"filter":"datum.k===0"},{"calculate":"sin(datum.k*2*PI/5)","as":"x"},{"calculate":"cos(datum.k*2*PI/5)","as":"y"}],"mark":{"type":"text","align":"center","baseline":"alphabetic","dx":-1,"dy":-32,"fontSize":40,"fontStyle":"italic","color":"#000000"},"encoding":{"text":{"field":"main","type":"nominal"}}},
{"data":{"name":"axes"},"transform":[{"filter":"datum.k===1"},{"calculate":"sin(datum.k*2*PI/5)","as":"x"},{"calculate":"cos(datum.k*2*PI/5)","as":"y"}],"mark":{"type":"text","align":"left","baseline":"alphabetic","dx":21,"dy":2,"fontSize":36,"fontStyle":"italic","color":"#000000"},"encoding":{"text":{"field":"main","type":"nominal"}}},
{"data":{"name":"axes"},"transform":[{"filter":"datum.k===1"},{"calculate":"sin(datum.k*2*PI/5)","as":"x"},{"calculate":"cos(datum.k*2*PI/5)","as":"y"}],"mark":{"type":"text","align":"left","baseline":"alphabetic","dx":43,"dy":11,"fontSize":28,"fontStyle":"italic","color":"#000000"},"encoding":{"text":{"field":"sub","type":"nominal"}}},
{"data":{"name":"axes"},"transform":[{"filter":"datum.k===2"},{"calculate":"sin(datum.k*2*PI/5)","as":"x"},{"calculate":"cos(datum.k*2*PI/5)","as":"y"}],"mark":{"type":"text","align":"left","baseline":"alphabetic","dx":18,"dy":55,"fontSize":36,"fontStyle":"italic","color":"#000000"},"encoding":{"text":{"field":"main","type":"nominal"}}},
{"data":{"name":"axes"},"transform":[{"filter":"datum.k===3"},{"calculate":"sin(datum.k*2*PI/5)","as":"x"},{"calculate":"cos(datum.k*2*PI/5)","as":"y"}],"mark":{"type":"text","align":"left","baseline":"alphabetic","dx":-92,"dy":56,"fontSize":36,"fontStyle":"italic","color":"#000000"},"encoding":{"text":{"field":"main","type":"nominal"}}},
{"data":{"name":"axes"},"transform":[{"filter":"datum.k===3"},{"calculate":"sin(datum.k*2*PI/5)","as":"x"},{"calculate":"cos(datum.k*2*PI/5)","as":"y"}],"mark":{"type":"text","align":"left","baseline":"alphabetic","dx":-83,"dy":68,"fontSize":28,"fontStyle":"italic","color":"#000000"},"encoding":{"text":{"field":"sub","type":"nominal"}}},
{"data":{"name":"axes"},"transform":[{"filter":"datum.k===4"},{"calculate":"sin(datum.k*2*PI/5)","as":"x"},{"calculate":"cos(datum.k*2*PI/5)","as":"y"}],"mark":{"type":"text","align":"left","baseline":"alphabetic","dx":-85,"dy":2,"fontSize":36,"fontStyle":"italic","color":"#000000"},"encoding":{"text":{"field":"main","type":"nominal"}}},
{"data":{"name":"axes"},"transform":[{"filter":"datum.k===4"},{"calculate":"sin(datum.k*2*PI/5)","as":"x"},{"calculate":"cos(datum.k*2*PI/5)","as":"y"}],"mark":{"type":"text","align":"left","baseline":"alphabetic","dx":-63,"dy":12,"fontSize":28,"fontStyle":"italic","color":"#000000"},"encoding":{"text":{"field":"sub","type":"nominal"}}},
{"data":{"name":"scores"},"transform":[{"filter":"datum.panel==='d' && datum.series==='Tilting'"},{"calculate":"0.9","as":"x"},{"calculate":"-0.28","as":"y"}],"mark":{"type":"text","text":"S","align":"left","baseline":"alphabetic","dx":1,"fontSize":32,"fontStyle":"italic","color":"#f24a4a"}},
{"data":{"name":"scores"},"transform":[{"filter":"datum.panel==='d' && datum.series==='Tilting'"},{"calculate":"0.9","as":"x"},{"calculate":"-0.28","as":"y"}],"mark":{"type":"text","align":"left","baseline":"alphabetic","dx":18,"dy":8,"fontSize":22,"fontStyle":"italic","color":"#f24a4a"},"encoding":{"text":{"field":"sub","type":"nominal"}}},
{"data":{"name":"scores"},"transform":[{"filter":"datum.panel==='d' && datum.series==='Tilting'"},{"calculate":"0.9","as":"x"},{"calculate":"-0.28","as":"y"}],"mark":{"type":"text","align":"left","baseline":"alphabetic","dx":98,"fontSize":32,"color":"#f24a4a"},"encoding":{"text":{"field":"val","type":"nominal"}}},
{"data":{"name":"scores"},"transform":[{"filter":"datum.panel==='d' && datum.series==='Quad'"},{"calculate":"0.9","as":"x"},{"calculate":"-0.48","as":"y"}],"mark":{"type":"text","text":"S","align":"left","baseline":"alphabetic","dx":1,"fontSize":32,"fontStyle":"italic","color":"#2f7be6"}},
{"data":{"name":"scores"},"transform":[{"filter":"datum.panel==='d' && datum.series==='Quad'"},{"calculate":"0.9","as":"x"},{"calculate":"-0.48","as":"y"}],"mark":{"type":"text","align":"left","baseline":"alphabetic","dx":18,"dy":7,"fontSize":22,"fontStyle":"italic","color":"#2f7be6"},"encoding":{"text":{"field":"sub","type":"nominal"}}},
{"data":{"name":"scores"},"transform":[{"filter":"datum.panel==='d' && datum.series==='Quad'"},{"calculate":"0.9","as":"x"},{"calculate":"-0.48","as":"y"}],"mark":{"type":"text","align":"left","baseline":"alphabetic","dx":91,"fontSize":32,"color":"#2f7be6"},"encoding":{"text":{"field":"val","type":"nominal"}}},
{"data":{"name":"panels"},"transform":[{"filter":"datum.panel==='d'"},{"calculate":"0.074","as":"x"},{"calculate":"-1.475","as":"y"}],"mark":{"type":"text","align":"center","baseline":"alphabetic","fontSize":34,"fontWeight":"bold","color":"#000000"},"encoding":{"text":{"field":"label","type":"nominal"}}}
]}
],
"resolve":{"scale":{"fill":"independent","stroke":"independent"},"legend":{"fill":"independent","stroke":"independent"}},
"config":{
"font":"Liberation Serif",
"view":{"stroke":null},
"legend":{"symbolType":"M-2,-1H2V1H-2Z","symbolSize":1225,"symbolOffset":17.5,"symbolStrokeWidth":3,"labelFont":"Liberation Serif","labelFontSize":32,"labelColor":"#000000","labelOffset":18,"padding":4,"rowPadding":-7,"strokeColor":"#999999","fillColor":"#ffffff","labelLimit":300}
}
}
